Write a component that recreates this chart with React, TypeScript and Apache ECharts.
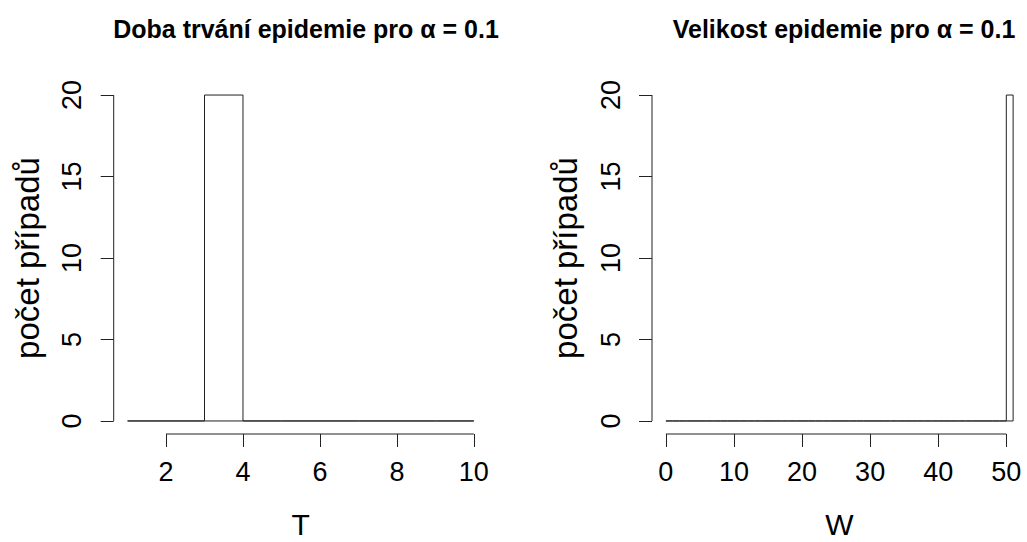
import React, { useEffect, useRef } from "react";
import * as echarts from "echarts";

// Histogram of T (duration): bin edges and counts
const tEdges = [1, 2, 3, 4, 5, 6, 7, 8, 9, 10];
const tCounts = [0, 0, 20, 0, 0, 0, 0, 0, 0];
const tTicks = [2, 4, 6, 8, 10];

// Histogram of W (size): bins of width 1 from 0 to 51
const wStart = 0;
const wWidth = 1;
const wCounts = [
  0, 0, 0, 0, 0, 0, 0, 0, 0, 0,
  0, 0, 0, 0, 0, 0, 0, 0, 0, 0,
  0, 0, 0, 0, 0, 0, 0, 0, 0, 0,
  0, 0, 0, 0, 0, 0, 0, 0, 0, 0,
  0, 0, 0, 0, 0, 0, 0, 0, 0, 0,
  20,
];
const wTicks = [0, 10, 20, 30, 40, 50];
const yTicks = [0, 5, 10, 15, 20];

const titleLeft = "Doba trvání epidemie pro α = 0.1";
const titleRight = "Velikost epidemie pro α = 0.1";
const yName = "počet případů";

const FONT = "'Liberation Sans', Arial, sans-serif";
const INK = "#222";

function extend(min: number, max: number) {
  const d = (max - min) * 0.04;
  return [min - d, max + d];
}

export default function App() {
  const ref = useRef<HTMLDivElement>(null);
  useEffect(() => {
    document.body.style.margin = "0";
    const chart = echarts.init(ref.current!, null, { renderer: "svg" });

    const tBins = tCounts.map((c, i) => [tEdges[i], tEdges[i + 1], c]);
    const wBins = wCounts.map((c, i) => [wStart + i * wWidth, wStart + (i + 1) * wWidth, c]);

    const [tx0, tx1] = extend(tEdges[0], tEdges[tEdges.length - 1]);
    const [wx0, wx1] = extend(wStart, wStart + wCounts.length * wWidth);
    const [y0, y1] = extend(0, 20);

    const renderHist = (params: any, api: any) => {
      const a = api.coord([api.value(0), 0]);
      const b = api.coord([api.value(1), api.value(2)]);
      return {
        type: "polygon",
        shape: { points: [[a[0], a[1]], [b[0], a[1]], [b[0], b[1]], [a[0], b[1]]] },
        style: { fill: "none", stroke: INK, lineWidth: 1 },
      };
    };

    const xAxisCommon = (min: number, max: number, ticks: number[], name: string, gridIndex: number) => ({
      type: "value",
      gridIndex,
      min,
      max,
      name,
      nameLocation: "middle",
      nameGap: 75,
      nameTextStyle: { fontFamily: FONT, fontSize: 30, lineHeight: 30, color: "#000" },
      axisLine: { show: false, onZero: false },
      splitLine: { show: false },
      axisTick: { show: true, inside: false, length: 13, customValues: ticks, lineStyle: { color: INK, width: 1 } },
      axisLabel: { customValues: ticks, margin: 24, fontFamily: FONT, fontSize: 27, color: "#000" },
    });

    const yAxisCommon = (gridIndex: number) => ({
      type: "value",
      gridIndex,
      min: y0,
      max: y1,
      name: yName,
      nameLocation: "middle",
      nameRotate: 90,
      nameGap: 70,
      nameTextStyle: { fontFamily: FONT, fontSize: 33, color: "#000" },
      axisLine: { show: false, onZero: false },
      splitLine: { show: false },
      axisTick: { show: true, inside: false, length: 13, customValues: yTicks, lineStyle: { color: INK, width: 1 } },
      axisLabel: { customValues: yTicks, rotate: 90, margin: 28, fontFamily: FONT, fontSize: 27, color: "#000" },
    });

    const axisLineSeries = (xi: number, data: number[][]) => ({
      type: "line",
      xAxisIndex: xi,
      yAxisIndex: xi,
      data,
      symbol: "none",
      silent: true,
      clip: false,
      lineStyle: { color: INK, width: 1 },
    });

    const titleStyle = { fontFamily: FONT, fontSize: 25, fontWeight: "bold", color: "#000" };

    chart.setOption({
      animation: false,
      backgroundColor: "#fff",
      title: [
        { text: titleLeft, left: 301, top: 11, textAlign: "center", textStyle: titleStyle },
        { text: titleRight, left: 839, top: 11, textAlign: "center", textStyle: titleStyle },
      ],
      grid: [
        { left: 113.7, width: 374, top: 82, height: 352, outerBoundsMode: "none", containLabel: false },
        { left: 652, width: 375, top: 82, height: 352, outerBoundsMode: "none", containLabel: false },
      ],
      xAxis: [
        xAxisCommon(tx0, tx1, tTicks, "T", 0),
        xAxisCommon(wx0, wx1, wTicks, "W", 1),
      ],
      yAxis: [yAxisCommon(0), yAxisCommon(1)],
      series: [
        { type: "custom", xAxisIndex: 0, yAxisIndex: 0, renderItem: renderHist, data: tBins, silent: true },
        { type: "custom", xAxisIndex: 1, yAxisIndex: 1, renderItem: renderHist, data: wBins, silent: true },
        axisLineSeries(0, [[tTicks[0], y0], [tTicks[tTicks.length - 1], y0]]),
        axisLineSeries(0, [[tx0, yTicks[0]], [tx0, yTicks[yTicks.length - 1]]]),
        axisLineSeries(1, [[wTicks[0], y0], [wTicks[wTicks.length - 1], y0]]),
        axisLineSeries(1, [[wx0, yTicks[0]], [wx0, yTicks[yTicks.length - 1]]]),
      ],
    });
    return () => chart.dispose();
  }, []);
  return <div ref={ref} style={{ width: 1027, height: 542 }} />;
}
